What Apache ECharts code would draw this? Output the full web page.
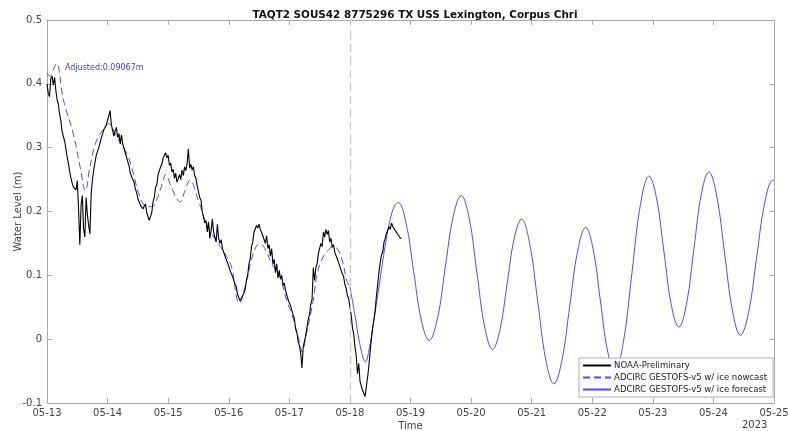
<!DOCTYPE html>
<html>
<head>
<meta charset="utf-8">
<script src="https://cdn.jsdelivr.net/npm/echarts@6/dist/echarts.min.js"></script>
<style>
html,body{margin:0;padding:0;background:#fff;}
#chart{width:788px;height:431px;}
</style>
</head>
<body>
<div id="chart"></div>
<script>
// ---------- DATA ----------
var titleText = 'TAQT2 SOUS42 8775296 TX USS Lexington, Corpus Chri';
var xTickLabels = ['05-13','05-14','05-15','05-16','05-17','05-18','05-19','05-20','05-21','05-22','05-23','05-24','05-25'];
var yearLabel = '2023';
var seriesNames = ['NOAA-Preliminary','ADCIRC GESTOFS-v5 w/ ice nowcast','ADCIRC GESTOFS-v5 w/ ice forecast'];
var adjustedText = 'Adjusted:0.09067m';
var nowcastEndHour = 120; // 05-18 00:00

// observed water level, one value every 0.5 h from 05-13 00:00
var obsStepHours = 0.5;
var obsValues = [
 0.400,0.385,0.380,0.408,0.412,0.398,0.410,0.390,0.375,0.368,
 0.352,0.342,0.325,0.322,0.310,0.298,0.285,0.275,0.262,0.252,
 0.244,0.238,0.236,0.234,0.248,0.205,0.148,0.210,0.225,0.172,
 0.160,0.222,0.195,0.178,0.165,0.228,0.250,0.265,0.268,0.288,
 0.286,0.300,0.302,0.315,0.316,0.328,0.330,0.336,0.335,0.350,
 0.358,0.336,0.334,0.318,0.326,0.332,0.316,0.322,0.306,0.320,
 0.306,0.308,0.292,0.294,0.278,0.272,0.260,0.262,0.250,0.246,
 0.235,0.230,0.220,0.218,0.210,0.212,0.204,0.202,0.212,0.198,
 0.200,0.186,0.192,0.198,0.215,0.222,0.238,0.242,0.258,0.260,
 0.270,0.274,0.284,0.286,0.292,0.284,0.288,0.272,0.276,0.262,
 0.266,0.252,0.260,0.246,0.244,0.258,0.250,0.265,0.256,0.270,
 0.264,0.276,0.298,0.268,0.274,0.265,0.270,0.256,0.252,0.240,
 0.240,0.222,0.218,0.200,0.198,0.182,0.186,0.168,0.184,0.158,
 0.170,0.188,0.168,0.160,0.152,0.180,0.158,0.150,0.156,0.142,
 0.140,0.130,0.130,0.120,0.120,0.108,0.107,0.098,0.097,0.086,
 0.082,0.070,0.069,0.060,0.064,0.062,0.072,0.078,0.092,0.100,
 0.118,0.126,0.145,0.152,0.168,0.170,0.178,0.174,0.180,0.172,
 0.174,0.162,0.164,0.150,0.162,0.142,0.148,0.130,0.142,0.118,
 0.125,0.104,0.118,0.096,0.108,0.094,0.100,0.084,0.088,0.076,
 0.076,0.062,0.062,0.052,0.050,0.038,0.032,0.016,0.010,-0.004,
 -0.010,-0.022,-0.045,-0.012,-0.010,0.006,0.018,0.032,0.038,0.055,
 0.062,0.112,0.092,0.112,0.118,0.134,0.136,0.150,0.145,0.168,
 0.160,0.172,0.164,0.170,0.152,0.158,0.144,0.148,0.136,0.138,
 0.126,0.128,0.114,0.114,0.102,0.098,0.086,0.080,0.068,0.064,
 0.050,0.038,0.018,0.008,-0.012,-0.026,-0.054,-0.038,-0.066,-0.068,
 -0.080,-0.080,-0.090,-0.074,-0.060,-0.042,-0.020,0.000,0.018,0.030,
 0.045,0.068,0.085,0.105,0.120,0.132,0.136,0.152,0.158,0.166,
 0.165,0.176,0.172,0.182,0.176,0.178,0.170,0.172,0.164,0.165,
 0.158,0.158
];

// nowcast: hours from 05-13 00:00 and water level
var nowcastHours = [0,1.2,2.8,3.8,6.5,10.4,13.1,15.2,17.0,19.7,23.6,24.3,27.6,31.6,33.5,36.8,39.5,41.5,43.4,46.1,46.9,49.5,52.7,54.6,56.6,59.9,62.6,65.2,67.8,70.5,73.1,75.1,76.0,79.1,81.7,84.3,86.3,89.0,92.3,94.9,96.9,100.2,101.0,102.8,105.5,106.8,108.8,111.4,113.4,115.4,117.3,118.7,120.0];
var nowcastValues = [0.417,0.412,0.425,0.432,0.375,0.322,0.270,0.232,0.270,0.312,0.335,0.338,0.317,0.291,0.270,0.223,0.2075,0.2075,0.218,0.249,0.258,0.236,0.215,0.232,0.249,0.218,0.1865,0.166,0.150,0.134,0.113,0.066,0.056,0.0925,0.134,0.150,0.142,0.1185,0.098,0.061,0.040,-0.007,-0.020,0.009,0.061,0.098,0.124,0.1395,0.1447,0.1395,0.1185,0.0925,0.082];

// forecast: hours from 05-13 00:00 and water level
var forecastHours = [120,121.9,123.9,126.1,128.0,129.9,131.9,133.9,135.9,137.8,139.1,142.2,145.25,148.3,151.4,154.6,157.75,160.9,164.1,167.2,170.3,173.4,176.5,179.4,182.25,185.1,188.0,191.2,194.4,197.6,200.8,203.95,207.1,210.25,213.4,216.3,219.15,222.0,224.9,228.3,231.7,235.1,238.5,241.45,244.4,247.35,250.3,253.3,256.25,259.2,262.2,265.3,268.45,271.6,274.7,277.9,281.1,284.3,287.5,288];
var forecastValues = [0.082,0.040,-0.007,-0.0355,-0.007,0.040,0.0925,0.1447,0.1865,0.210,0.214,0.1825,0.106,0.0295,-0.002,0.031,0.1115,0.192,0.225,0.190,0.1045,0.019,-0.016,0.014,0.086,0.158,0.188,0.150,0.059,-0.032,-0.070,-0.034,0.0525,0.139,0.175,0.142,0.0625,-0.017,-0.05,-0.005,0.103,0.211,0.2555,0.221,0.137,0.053,0.019,0.0545,0.1405,0.227,0.262,0.2245,0.134,0.0435,0.006,0.0415,0.1275,0.213,0.249,0.249];

// ---------- BUILD ----------
function zip(xs, ys){ var out=[]; for (var i=0;i<xs.length;i++) out.push([xs[i], ys[i]]); return out; }
var obsData = obsValues.map(function(v,i){ return [i*obsStepHours, v]; });
var nowcastData = zip(nowcastHours, nowcastValues);
var forecastData = zip(forecastHours, forecastValues);

var axisGrey = '#a8a8a8';
var labelGrey = '#444';
var font = 'DejaVu Sans';
var blue = '#4d4dff';

var chart = echarts.init(document.getElementById('chart'), null, {renderer:'canvas'});
var hoursPerDay = 24;
var xMax = (xTickLabels.length-1)*hoursPerDay;

chart.setOption({
  animation:false,
  backgroundColor:'#fff',
  textStyle:{fontFamily:font},
  title:{
    text:titleText, left:410, top:5, textAlign:'center',
    textStyle:{fontFamily:font, fontSize:10.4, fontWeight:'bold', color:'#111'}
  },
  grid:{left:47, right:14, top:20, bottom:28, containLabel:false, outerBoundsMode:'none'},
  legend:{
    data:seriesNames, orient:'vertical', right:15, bottom:34,
    itemWidth:28, itemHeight:8, itemGap:3,
    padding:[3,6,3,3],
    borderColor:'#999', borderWidth:0.8, backgroundColor:'#fff',
    itemStyle:{opacity:0},
    textStyle:{fontFamily:font, fontSize:8.5, color:'#222', padding:[0,0,0,-2]}
  },
  xAxis:[{
    type:'value', min:0, max:xMax, interval:hoursPerDay,
    name:'Time', nameLocation:'middle', nameGap:18, nameMoveOverlap:false,
    nameTextStyle:{fontFamily:font, fontSize:10, color:labelGrey},
    axisLine:{show:true, onZero:false, lineStyle:{color:axisGrey, width:1}},
    axisTick:{show:true, inside:true, length:5, lineStyle:{color:axisGrey}},
    axisLabel:{fontFamily:font, fontSize:10, color:labelGrey, margin:5,
      formatter:function(v){ return xTickLabels[Math.round(v/hoursPerDay)] || ''; }},
    splitLine:{show:false}
  },{
    type:'value', min:0, max:xMax, interval:hoursPerDay, position:'top',
    axisLine:{show:true, onZero:false, lineStyle:{color:axisGrey, width:1}},
    axisTick:{show:true, inside:true, length:5, lineStyle:{color:axisGrey}},
    axisLabel:{show:false}, splitLine:{show:false}
  }],
  yAxis:[{
    type:'value', min:-0.1, max:0.5, interval:0.1,
    name:'Water Level (m)', nameLocation:'middle', nameGap:24, nameMoveOverlap:false,
    nameTextStyle:{fontFamily:font, fontSize:10, color:labelGrey},
    axisLine:{show:true, onZero:false, lineStyle:{color:axisGrey, width:1}},
    axisTick:{show:true, inside:true, length:5, lineStyle:{color:axisGrey}},
    axisLabel:{fontFamily:font, fontSize:10, color:labelGrey, margin:5,
      formatter:function(v){ var r=Math.round(v*10)/10; return r===0?'0':String(r); }},
    splitLine:{show:false}
  },{
    type:'value', min:-0.1, max:0.5, interval:0.1, position:'right',
    axisLine:{show:true, onZero:false, lineStyle:{color:axisGrey, width:1}},
    axisTick:{show:true, inside:true, length:5, lineStyle:{color:axisGrey}},
    axisLabel:{show:false}, splitLine:{show:false}
  }],
  series:[{
    name:seriesNames[0], type:'line', data:obsData, symbol:'none', showSymbol:false,
    z:4, lineStyle:{color:'#000', width:1.1}, itemStyle:{color:'#000'}
  },{
    name:seriesNames[1], type:'line', data:nowcastData, symbol:'none', showSymbol:false,
    smooth:0.4, z:3, lineStyle:{color:blue, width:1, type:[7,4]}, itemStyle:{color:blue},
    markLine:{
      silent:true, symbol:['none','none'], label:{show:false},
      lineStyle:{color:'#c4c4c4', width:1.2, type:[8,5]},
      data:[{xAxis:nowcastEndHour}]
    }
  },{
    name:seriesNames[2], type:'line', data:forecastData, symbol:'none', showSymbol:false,
    smooth:0.4, z:3, lineStyle:{color:blue, width:1}, itemStyle:{color:blue}
  }],
  graphic:[{
    type:'text', left:65, top:64,
    style:{text:adjustedText, fontFamily:font, fontSize:8, fill:'#3b3bff'}
  },{
    type:'text', left:742, top:420,
    style:{text:yearLabel, fontFamily:font, fontSize:10, fill:labelGrey}
  }]
});
</script>
</body>
</html>
